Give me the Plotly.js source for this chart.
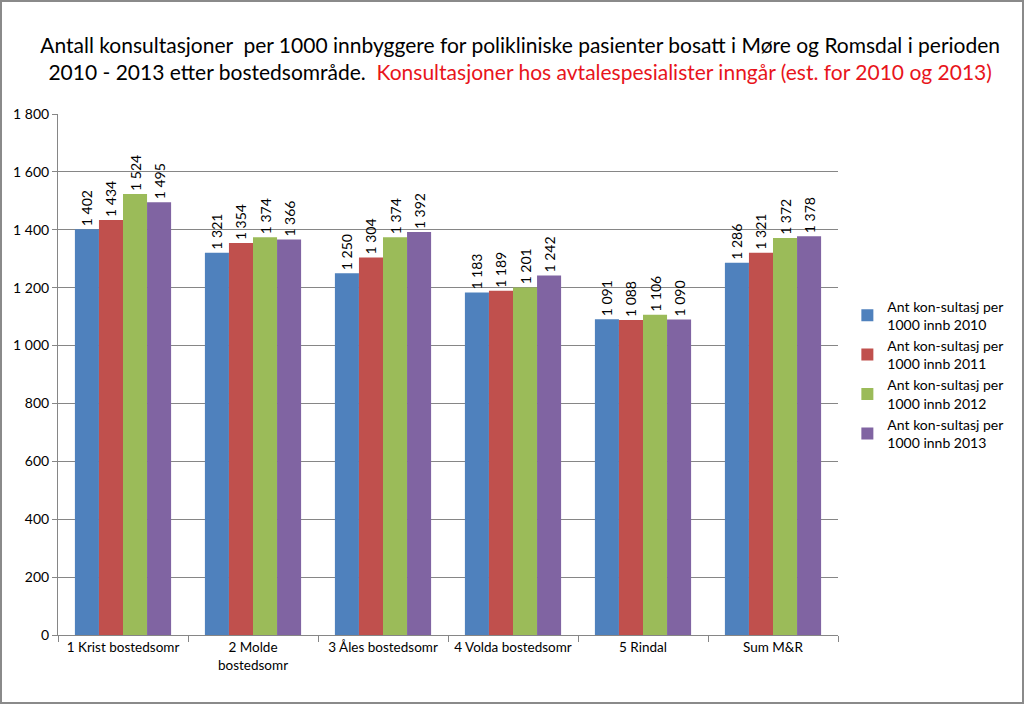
<!DOCTYPE html>
<html>
<head>
<meta charset="utf-8">
<script src="https://cdn.plot.ly/plotly-3.0.1.min.js"></script>
<style>
  body { margin: 0; background: #fff; }
  #chart { width: 1024px; height: 704px; box-sizing: border-box; border: 2px solid #8a8a8a; }
</style>
</head>
<body>
<div id="chart"></div>
<script>
// kategorier (bostedsområde)
var omrader = ['1 Krist bostedsomr', '2 Molde<br>bostedsomr', '3 Åles bostedsomr',
  '4 Volda bostedsomr', '5 Rindal', 'Sum M&R'];

// konsultasjoner per 1000 innb
var ar2010 = [1402, 1321, 1250, 1183, 1091, 1286];
var ar2011 = [1434, 1354, 1304, 1189, 1088, 1321];
var ar2012 = [1524, 1374, 1374, 1201, 1106, 1372];
var ar2013 = [1495, 1366, 1392, 1242, 1090, 1378];

var serieNavn = [
  'Ant kon-sultasj per<br>1000 innb 2010',
  'Ant kon-sultasj per<br>1000 innb 2011',
  'Ant kon-sultasj per<br>1000 innb 2012',
  'Ant kon-sultasj per<br>1000 innb 2013'
];
var farger = ['#4f81bd', '#c0504d', '#9bbb59', '#8064a2'];

var FONT = 'Lato, "Open Sans", sans-serif';

function lagSerie(verdier, i) {
  return {
    type: 'bar',
    x: omrader,
    y: verdier,
    name: serieNavn[i],
    marker: { color: farger[i] },
    texttemplate: '%{y:,d}',
    textposition: 'outside',
    textangle: -90,
    constraintext: 'none',
    cliponaxis: false,
    textfont: { family: FONT, size: 14, color: '#000' },
    hoverinfo: 'x+y',
  };
}

var data = [ar2010, ar2011, ar2012, ar2013].map(lagSerie);

var layout = {
  width: 1020,
  height: 700,
  separators: ', ',
  font: { family: FONT, size: 13, color: '#000' },
  paper_bgcolor: '#fff',
  plot_bgcolor: '#fff',
  barmode: 'group',
  bargap: 0.26,
  bargroupgap: 0,
  margin: { l: 56, r: 184, t: 112, b: 67 },
  title: {
    text: 'Antall konsultasjoner  per 1000 innbyggere for polikliniske pasienter bosatt i Møre og Romsdal i perioden<br>2010 - 2013 etter bostedsområde.  <span style="color:#e8141b">Konsultasjoner hos avtalespesialister inngår (est. for 2010 og 2013)</span>',
    font: { family: FONT, size: 21, color: '#000' },
    x: 0.508,
    xanchor: 'center',
    y: 0.927,
    yanchor: 'middle',
  },
  xaxis: {
    type: 'category',
    showline: true,
    linecolor: '#868686',
    ticks: 'outside',
    tickson: 'boundaries',
    tickcolor: '#868686',
    ticklen: 6,
    tickangle: 0,
    showgrid: false,
    tickfont: { family: FONT, size: 13.5 },
  },
  yaxis: {
    range: [0, 1800],
    dtick: 200,
    tickformat: ',d',
    showline: true,
    linecolor: '#868686',
    ticks: 'outside',
    tickcolor: '#868686',
    ticklen: 5,
    gridcolor: '#868686',
    gridwidth: 1,
    zeroline: false,
    tickfont: { family: FONT, size: 14 },
  },
  legend: {
    x: 1.012,
    xanchor: 'left',
    y: 0.5,
    yanchor: 'middle',
    font: { family: FONT, size: 14 },
    itemwidth: 30,
    tracegroupgap: 21,
  },
};

Plotly.newPlot('chart', data, layout, { displayModeBar: false, responsive: false });
</script>
</body>
</html>
